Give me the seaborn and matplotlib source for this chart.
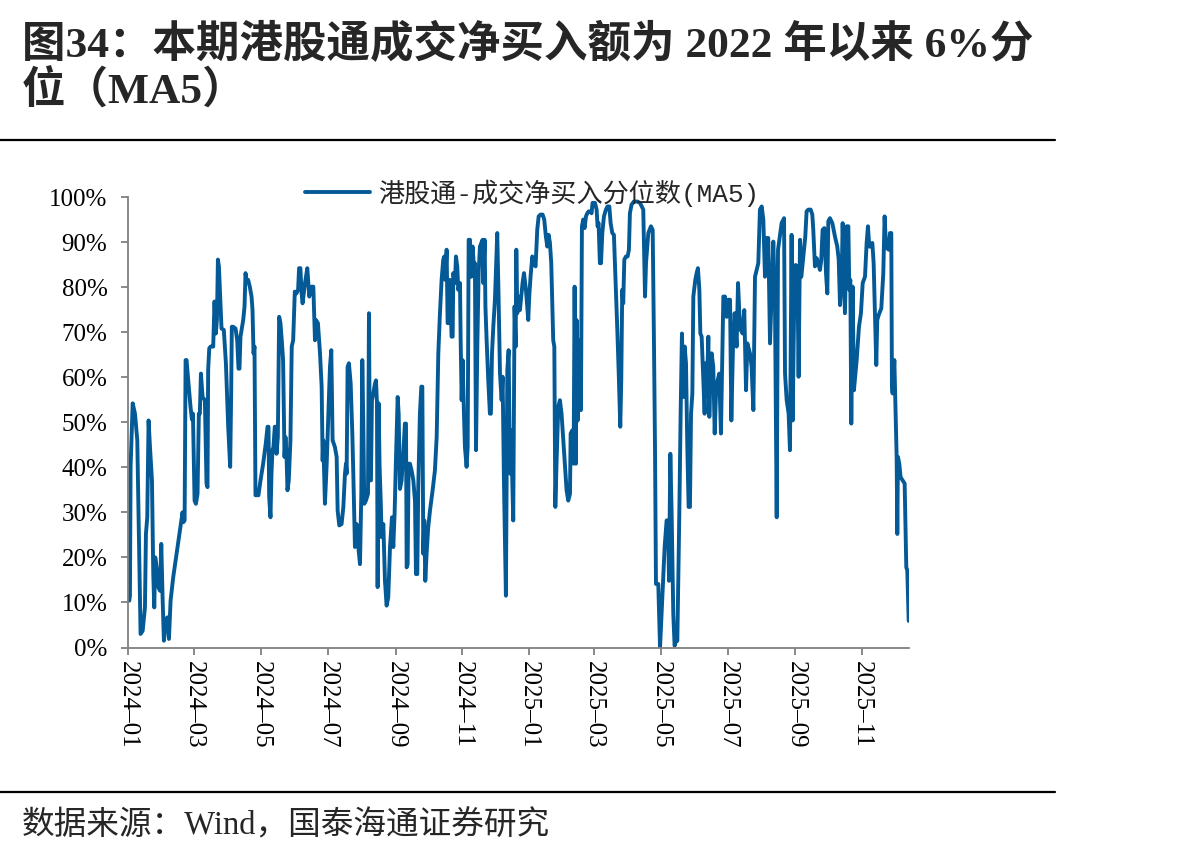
import numpy as np
import pandas as pd
import matplotlib
matplotlib.use("Agg")
import matplotlib.pyplot as plt
import matplotlib.dates as mdates
from matplotlib.lines import Line2D
from matplotlib.font_manager import FontProperties
import seaborn as sns

# days since 2024-01-01 (trading-day samples)
day_offset = [
    0.9, 1.5, 2.1, 4.0, 6.1, 8.2, 11.2, 13.1, 15.2, 16.1, 17.3, 18.5, 19.8, 21.6, 22.8, 23.7, 24.6, 25.8, 27.4, 28.9,
    30.1, 31.3, 32.5, 34.0, 35.6, 37.1, 38.6, 41.0, 44.1, 47.1, 49.5, 50.2, 51.4, 52.3, 53.2, 54.7, 56.8, 58.1, 59.0,
    60.5, 61.7, 63.2, 64.4, 65.3, 66.3, 67.8, 69.9, 71.4, 72.3, 72.9, 73.9, 75.1, 76.3, 77.5, 78.7, 79.9, 80.9, 81.8,
    82.7, 84.2, 85.1, 87.2, 89.1, 91.2, 93.0, 93.9, 94.5, 95.7, 97.9, 99.4, 100.6, 101.5, 102.4, 104.9, 106.1, 107.0,
    107.9, 109.4, 110.9, 112.5, 113.4, 114.3, 115.2, 116.1, 117.0, 118.8, 120.7, 123.1, 125.5, 127.1, 128.0, 128.6,
    129.8, 130.7, 131.6, 132.5, 133.7, 134.7, 135.3, 136.5, 137.7, 138.9, 140.1, 141.3, 142.6, 143.5, 144.4, 145.3,
    146.5, 148.0, 149.2, 150.5, 152.0, 153.5, 155.0, 155.9, 157.1,
    158.2, 159.1, 161.3, 163.4, 165.2, 167.3, 168.9, 170.4, 171.3, 173.1, 175.0, 176.5, 177.4, 178.0, 179.5, 181.0,
    182.6, 184.1, 185.3, 186.5, 188.6, 190.2, 191.1, 192.6, 194.7, 196.3, 197.8, 198.7, 199.3, 200.2, 201.4, 203.0,
    204.5, 205.4, 206.9, 208.4, 210.3, 211.5, 212.7, 213.6, 214.5, 215.4, 216.9, 218.8, 219.7, 220.6, 221.5, 222.4,
    223.6, 225.2, 226.1, 227.0, 227.6, 228.5, 229.4, 230.6, 231.2, 232.8, 234.3, 235.8, 237.3, 238.9, 240.7, 241.9,
    243.1, 244.3, 245.9, 246.8, 248.0, 249.5, 251.0, 252.5, 253.5, 254.1, 255.0, 255.9, 257.1, 258.6, 260.2, 261.7,
    262.6, 263.8, 264.7, 266.2, 267.5, 268.4, 269.3, 270.2, 271.1, 272.3, 273.8, 275.4, 277.8, 279.9, 281.5, 283.0,
    284.5, 286.0, 287.5, 288.5, 289.4, 290.6, 291.5, 292.7, 293.6, 295.1, 296.1, 296.7, 298.2, 299.1, 300.3, 301.2,
    302.8, 303.4, 304.3, 305.2, 306.4, 307.3, 308.8, 309.8, 310.7, 311.9, 313.1, 314.3, 315.5, 316.4, 317.4, 318.6,
    319.8, 321.0,
    323.4, 324.0, 325.3, 326.0, 327.1, 328.6, 330.1, 331.0, 332.0, 333.2, 334.7, 336.8, 338.0, 339.3, 340.8, 341.7,
    342.9, 344.7, 346.0, 347.2, 348.4, 349.6, 350.5, 351.4, 352.6, 353.6, 354.2, 355.1, 356.3, 357.5, 358.7, 359.9,
    361.2, 363.0, 365.1, 366.0, 367.2, 368.8, 370.3, 371.8, 373.3, 374.6, 376.4, 378.2, 379.7, 381.2, 382.5, 383.7,
    384.9, 386.1, 387.3, 387.9, 388.9, 389.8, 391.0, 392.5, 394.0, 395.5, 397.1, 398.6, 400.1, 401.6, 403.2, 403.8,
    405.3, 406.5, 407.4, 408.6, 409.2, 410.2, 411.1, 412.3, 413.2, 414.1, 415.3, 416.5, 417.8, 419.0, 420.2, 421.4,
    422.9, 423.8, 426.0, 427.5, 428.4, 429.3, 430.5, 431.5, 432.7, 434.2, 436.0, 437.5, 439.1, 440.3, 441.8, 443.3,
    444.8, 446.4, 447.9, 449.1, 450.0, 450.9, 451.8, 452.8, 454.3, 455.8, 457.0, 457.9, 459.4, 461.6, 464.6, 467.1,
    470.1, 471.7, 472.6, 474.7, 477.1, 478.7, 479.9, 480.8, 481.7, 483.8, 485.4, 487.2, 489.6, 491.4, 492.7, 493.6,
    494.8, 496.0, 497.5, 498.7, 500.0, 501.2, 503.0, 504.2, 505.4, 506.7, 507.9, 509.1, 510.3, 511.5, 512.7, 513.7,
    514.9, 515.8, 517.6, 518.8, 520.0, 521.3, 522.2, 523.4, 524.9, 526.1, 527.0, 528.0, 529.5, 530.4, 531.6, 532.5,
    534.0, 535.3, 536.5, 538.0, 539.5, 541.0, 542.0, 543.2, 544.7, 546.2, 547.7, 549.3, 550.5, 552.0, 553.5, 555.3,
    556.6, 557.8, 559.0, 560.8, 562.3, 563.9, 565.1, 567.5, 569.0, 570.6, 572.1, 573.6, 575.1, 576.6, 578.2, 579.7,
    581.2, 582.7, 584.2, 585.8, 587.3, 588.8, 590.3, 591.9, 593.1,
    596.4, 598.6, 599.5, 601.0, 602.8, 604.0, 605.5, 606.5, 607.7, 609.2, 610.7, 611.9, 613.2, 614.4, 616.2, 618.0,
    619.2, 620.8, 622.9, 624.4, 625.3, 626.8, 628.4, 629.9, 631.4, 632.6, 633.8, 635.4, 636.9, 638.1, 639.0, 640.5,
    642.7, 645.1, 647.2, 648.5, 649.7, 651.2, 652.1, 653.3, 654.2, 655.8, 657.3, 658.2, 659.1, 660.0, 661.2, 662.4,
    664.9, 667.0, 668.8, 670.4, 672.5, 674.0, 675.2, 676.4, 677.7, 679.2, 680.4, 682.8, 683.7, 685.0, 687.4, 689.2,
    690.4, 691.7, 692.9, 694.1, 695.3, 696.5, 697.1, 697.7, 699.3, 700.2, 701.4, 702.0, 702.6, 703.8, 705.0, 706.9,
    708.7, 709.3, 710.2, 711.1, 712.4,
]

# percentile values (%)
pct = [
    10.4, 11.5, 40.1, 54.2, 51.9, 46.0, 3.0, 3.7, 8.9, 25.2, 28.9, 50.4, 44.5, 37.1, 16.3, 8.9, 20.0, 17.8, 13.4, 12.6,
    23.0, 11.1, 1.5, 5.9, 6.7, 1.9, 10.4, 15.6, 20.8, 26.0, 30.0, 27.8, 28.2, 63.8, 63.8, 59.3, 53.4, 50.6, 51.9,
    32.6, 31.9, 34.1, 51.9, 51.9, 60.8, 55.6, 54.9, 36.4, 35.6, 61.6, 66.4, 66.8, 66.8, 66.8, 76.8, 69.7, 72.7, 86.1,
    84.6, 75.7, 70.8, 70.5, 63.1, 49.0, 40.1, 56.4, 71.2, 71.2, 70.8, 68.2, 61.9, 61.9, 69.0, 72.7, 75.7, 83.1,
    81.6, 81.6, 80.1, 77.9, 74.9, 65.3, 66.8, 33.8, 33.8, 33.8, 37.1, 40.8, 45.3, 49.0, 49.0, 33.4,
    28.9, 38.6, 43.8, 44.5, 49.0, 49.0, 43.0, 46.7, 73.4, 72.0, 68.2, 63.8, 42.3, 46.7, 43.0, 34.9,
    37.1, 46.0, 66.8, 68.2, 79.0, 78.6, 79.4, 84.2, 84.2,
    78.6, 76.4, 80.9, 84.2, 77.9, 80.1, 80.1, 68.2, 72.7, 72.0, 65.3, 57.9, 41.5, 46.0, 31.9, 40.1,
    51.9, 62.3, 66.0, 46.0, 44.5, 42.3, 30.4, 27.1, 27.4, 31.2, 38.6, 40.8, 38.6, 62.3, 63.1, 58.6,
    47.5, 38.6, 22.3, 27.4, 21.5, 18.5, 34.1, 63.8, 50.4, 31.9, 32.6, 34.1, 74.2, 37.1, 37.1, 54.9,
    56.4, 58.6, 59.3, 54.2, 13.4, 54.2, 40.1, 31.2, 24.5, 27.4, 14.8, 9.3, 11.1, 22.3, 28.9, 22.3,
    29.7, 41.5, 55.6, 51.9, 35.2, 37.1, 43.0, 49.7, 49.7, 17.8, 18.5, 40.8, 40.8, 39.3, 37.1, 32.6,
    16.3, 16.3, 35.6, 51.9, 57.9, 57.9, 20.8, 28.2, 14.8, 20.8, 26.7, 30.4, 34.9, 39.3, 46.7, 65.3,
    74.2, 81.6, 86.1, 86.8, 81.6, 88.3, 72.0, 72.0, 81.6, 69.0, 69.0, 83.1, 80.9, 86.8, 84.6, 79.4,
    80.9, 68.2, 54.9, 63.8, 51.9, 44.5, 40.1, 44.5, 90.5, 90.5, 82.3, 89.0, 84.6, 85.3, 43.8, 66.8,
    83.1, 89.0,
    90.5, 80.9, 90.5, 75.7, 68.2, 59.3, 51.9, 51.9, 65.3, 71.2, 77.2, 92.0, 77.9, 60.8, 54.9, 60.1,
    37.1, 11.5, 61.6, 66.0, 38.6, 48.2, 37.1, 28.2, 75.7, 66.8, 88.3, 74.2, 77.9, 74.9, 77.9, 80.9,
    83.1, 79.4, 72.7, 77.9, 82.3, 86.8, 85.3, 84.6, 92.7, 95.7, 96.1, 96.1, 95.0, 91.2, 89.0, 91.6,
    89.8, 85.3, 74.2, 68.2, 66.8, 31.2, 41.5, 53.4, 54.9, 51.9, 46.0, 40.1, 34.9, 32.6, 34.1, 47.5,
    48.2, 40.8, 80.1, 40.8, 72.7, 50.4, 68.2, 57.1, 52.7, 93.5, 95.0, 93.1, 95.7, 96.4, 96.8, 96.8,
    96.4, 98.7, 98.7, 97.2, 93.5, 94.2, 85.3, 85.3, 92.0, 95.7, 97.2, 97.9, 97.9, 94.2, 92.0, 91.6,
    81.6, 70.5, 59.3, 49.0, 59.3, 79.4, 76.4, 86.1, 86.8, 86.8, 88.3, 96.4, 98.3, 99.0, 99.0, 98.7,
    97.2, 77.9, 85.3, 92.0, 93.5, 92.7, 66.8, 44.5, 14.1, 14.1, 0.0, 9.6, 22.3, 28.2, 28.2, 14.8,
    43.0, 29.7, 7.4, 0.4, 1.5, 1.5, 29.7, 51.9, 69.7, 55.6, 66.8, 63.1, 44.5, 31.2, 31.2, 51.9,
    56.4, 77.9, 81.6, 83.1, 84.2, 79.4, 69.7, 69.0, 59.3, 51.9, 63.1, 55.6, 69.0, 51.2, 62.3, 65.3,
    62.3, 47.5, 56.4, 59.3, 60.8, 47.5, 60.8, 77.9, 77.9, 73.4, 77.2, 77.2, 50.4, 66.8, 74.2, 66.8,
    80.9, 74.2, 70.5, 69.7, 74.9, 57.1, 67.5, 65.3, 62.3, 52.7, 82.3, 83.8, 85.3, 97.2, 97.9, 95.0,
    82.3, 90.9, 90.9, 67.5, 78.6, 90.1, 77.2, 28.9, 88.3,
    94.2, 95.3, 60.8, 54.9, 51.9, 43.8, 91.6, 50.4, 73.4, 84.9, 84.6, 60.1, 90.5, 82.3, 86.8, 91.2,
    96.8, 97.2, 97.2, 96.1, 92.7, 84.6, 86.4, 85.3, 83.8, 86.1, 92.7, 93.1, 83.1, 78.6, 94.6, 95.3,
    94.2, 91.2, 89.0, 86.1, 76.0, 81.6, 94.2, 83.1, 74.2, 93.5, 93.5, 79.4, 81.6, 49.7, 80.1, 57.1,
    63.8, 71.2, 74.2, 80.9, 82.3, 89.8, 93.5, 89.0, 89.0, 89.8, 85.3, 62.7, 72.7, 73.8, 75.3, 83.1,
    95.7, 89.0, 88.6, 88.3, 92.0, 92.0, 57.9, 56.4, 63.8, 54.9, 42.3, 25.2, 42.3, 40.8, 37.8, 37.1,
    36.4, 28.9, 17.8, 17.1, 5.9,
]

series_name = "港股通-成交净买入分位数(MA5)"
title_line1 = "图34：本期港股通成交净买入额为 2022 年以来 6%分"
title_line2 = "位（MA5）"
source_text = "数据来源：Wind，国泰海通证券研究"
y_ticks = list(range(0, 101, 10))
y_tick_labels = [f"{v}%" for v in y_ticks]

LINE = "#045A96"
GREY = "#808080"

sns.set_style("ticks")
plt.rcParams["font.family"] = ["Liberation Serif", "Noto Sans CJK SC", "DejaVu Sans"]
plt.rcParams["axes.unicode_minus"] = False

dates = pd.Timestamp("2024-01-01") + pd.to_timedelta(day_offset, unit="D")
df = pd.DataFrame({"date": dates, "pct": pct})

W, H = 1202, 859
fig = plt.figure(figsize=(W / 100, H / 100), dpi=100)
ax = fig.add_axes([128.3 / W, (H - 647.5) / H, 780.4 / W, 450.5 / H])

sns.lineplot(data=df, x="date", y="pct", ax=ax, color=LINE, linewidth=2.8,
             estimator=None, sort=False, label=series_name)

ax.set_xlim(pd.Timestamp("2024-01-01"), df["date"].iloc[-1])
ax.set_ylim(0, 100)
ax.set_yticks(y_ticks)
ax.set_yticklabels(y_tick_labels)
ax.xaxis.set_major_locator(mdates.MonthLocator(bymonth=[1, 3, 5, 7, 9, 11]))
ax.xaxis.set_major_formatter(mdates.DateFormatter("%Y\u2013%m"))
ax.set_xlabel("")
ax.set_ylabel("")

for s in ["top", "right"]:
    ax.spines[s].set_visible(False)
for s in ["left", "bottom"]:
    ax.spines[s].set_color(GREY)
    ax.spines[s].set_linewidth(1.3)

ax.tick_params(direction="out", length=5, width=1.3, color=GREY,
               labelsize=18, labelcolor="black", labelfontfamily="Liberation Serif")
ax.tick_params(axis="y", pad=10)
ax.tick_params(axis="x", labelrotation=-90, pad=5)

leg_font = FontProperties(family=["Liberation Mono", "Noto Sans CJK SC"], size=18.8)
ax.legend(loc="center", bbox_to_anchor=(0.517, 1.009), frameon=False, prop=leg_font,
          handlelength=2.5, handletextpad=0.3, borderaxespad=0)

title_font = ["Liberation Serif", "Noto Sans CJK SC"]
fig.text(22 / W, 1 - 45 / H, title_line1, fontsize=31.3, fontweight="bold",
         family=title_font, ha="left", va="center")
fig.text(22 / W, 1 - 92 / H, title_line2, fontsize=31.3, fontweight="bold",
         family=title_font, ha="left", va="center")

fig.add_artist(Line2D([0, 1055 / W], [1 - 140 / H] * 2, color="black", lw=1.6,
                      transform=fig.transFigure))
fig.add_artist(Line2D([0, 1055 / W], [1 - 792 / H] * 2, color="black", lw=1.6,
                      transform=fig.transFigure))

fig.text(22 / W, 1 - 826 / H, source_text, fontsize=23.5, family=title_font,
         ha="left", va="center")

fig.savefig("out.png", dpi=100)
